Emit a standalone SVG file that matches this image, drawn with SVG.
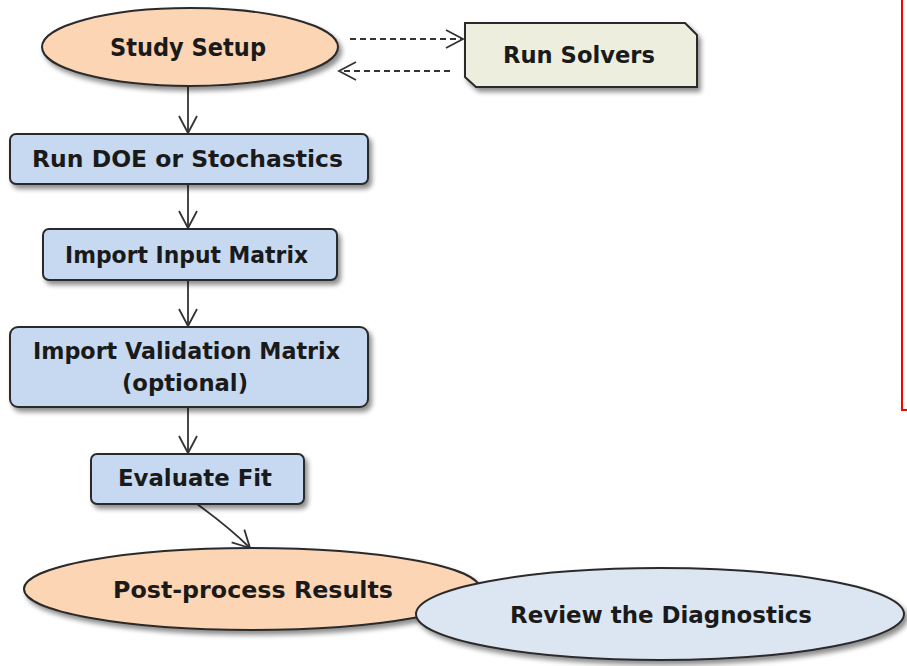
<svg xmlns="http://www.w3.org/2000/svg" width="907" height="666" viewBox="0 0 907 666">
<defs>
<filter id="sh" x="-10%" y="-20%" width="130%" height="150%">
<feGaussianBlur in="SourceAlpha" stdDeviation="2.5"/>
<feOffset dx="3" dy="4" result="b"/>
<feComponentTransfer><feFuncA type="linear" slope="0.45"/></feComponentTransfer>
<feMerge><feMergeNode/><feMergeNode in="SourceGraphic"/></feMerge>
</filter>
<marker id="arr" viewBox="0 0 20 20" refX="18" refY="10" markerWidth="20" markerHeight="20" markerUnits="userSpaceOnUse" orient="auto">
<path d="M1,1 L18,10 L1,19" fill="none" stroke="#333" stroke-width="1.8"/>
</marker>
</defs>
<style>
.t{font-family:"DejaVu Sans","Liberation Sans",sans-serif;font-weight:bold;font-size:23px;fill:#1a1a1a;text-anchor:middle}
.box{fill:#c6d9f1;stroke:#2b2b2b;stroke-width:2}
.org{fill:#fcd5b4;stroke:#2b2b2b;stroke-width:2}
.blu{fill:#dce6f2;stroke:#2b2b2b;stroke-width:2}
.ln{fill:none;stroke:#333;stroke-width:1.8;marker-end:url(#arr)}
.ds{fill:none;stroke:#333;stroke-width:1.8;stroke-dasharray:6,4;marker-end:url(#arr)}
</style>
<rect width="907" height="666" fill="#ffffff"/>
<g id="connectors">
<line class="ln" x1="188" y1="86" x2="188" y2="133"/>
<line class="ln" x1="188" y1="184" x2="188" y2="228"/>
<line class="ln" x1="188" y1="280" x2="188" y2="326"/>
<line class="ln" x1="188" y1="407" x2="188" y2="453"/>
<path class="ln" d="M197,504 Q230,528 250,548"/>
<line class="ds" x1="350" y1="39" x2="463" y2="39"/>
<line class="ds" x1="450" y1="71" x2="339" y2="71"/>
</g>
<g id="study-setup">
<ellipse class="org" cx="190" cy="47" rx="148" ry="39" filter="url(#sh)"/>
<text class="t" x="188" y="56" style="font-size:24px" textLength="156" lengthAdjust="spacingAndGlyphs">Study Setup</text>
</g>
<g id="run-solvers">
<path d="M465,23 L685,23 L697,35 L697,87 L476,87 L465,77 Z" fill="#eeeedf" stroke="#2b2b2b" stroke-width="2" filter="url(#sh)"/>
<text class="t" x="579" y="63" textLength="152" lengthAdjust="spacingAndGlyphs">Run Solvers</text>
</g>
<g id="run-doe">
<rect class="box" x="10" y="134" width="358" height="50" rx="6" filter="url(#sh)"/>
<text class="t" x="187.5" y="167" textLength="311" lengthAdjust="spacingAndGlyphs">Run DOE or Stochastics</text>
</g>
<g id="import-input">
<rect class="box" x="43" y="229" width="294" height="51" rx="6" filter="url(#sh)"/>
<text class="t" x="186.5" y="263" textLength="243" lengthAdjust="spacingAndGlyphs">Import Input Matrix</text>
</g>
<g id="import-validation">
<rect class="box" x="10" y="327" width="358" height="80" rx="8" filter="url(#sh)"/>
<text class="t" x="186.5" y="359" textLength="307" lengthAdjust="spacingAndGlyphs">Import Validation Matrix</text>
<text class="t" x="185" y="391" textLength="126" lengthAdjust="spacingAndGlyphs">(optional)</text>
</g>
<g id="evaluate-fit">
<rect class="box" x="91" y="454" width="213" height="50" rx="6" filter="url(#sh)"/>
<text class="t" x="195" y="486" textLength="154" lengthAdjust="spacingAndGlyphs">Evaluate Fit</text>
</g>
<g id="post-process">
<ellipse class="org" cx="252" cy="589" rx="228" ry="41" filter="url(#sh)"/>
<text class="t" x="253" y="598" textLength="280" lengthAdjust="spacingAndGlyphs">Post-process Results</text>
</g>
<g id="review-diagnostics">
<ellipse class="blu" cx="660" cy="614" rx="244" ry="46" filter="url(#sh)"/>
<text class="t" x="661" y="623" textLength="302" lengthAdjust="spacingAndGlyphs">Review the Diagnostics</text>
</g>
<path d="M902,0 L902,410 L907,410" fill="none" stroke="#ff0000" stroke-width="2"/>
</svg>
